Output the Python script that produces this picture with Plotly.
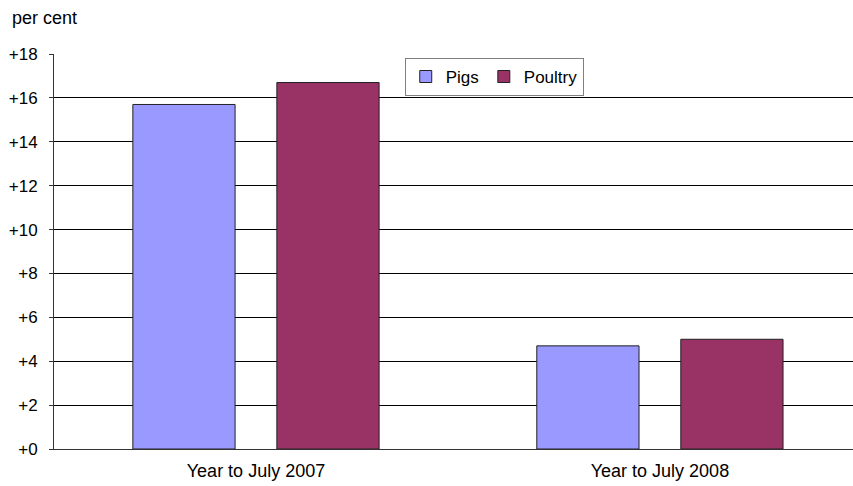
import plotly.graph_objects as go

categories = ["Year to July 2007", "Year to July 2008"]
pigs = [15.7, 4.7]
poultry = [16.7, 5.0]
y_ticks = [0, 2, 4, 6, 8, 10, 12, 14, 16, 18]
y_tick_labels = ["+" + str(v) for v in y_ticks]

fig = go.Figure()
fig.add_trace(go.Bar(name="Pigs", x=categories, y=pigs,
                     marker=dict(color="#9999FF", line=dict(color="#222222", width=1))))
fig.add_trace(go.Bar(name="Poultry", x=categories, y=poultry,
                     marker=dict(color="#993366", line=dict(color="#222222", width=1))))

fig.update_layout(
    width=853, height=486,
    margin=dict(l=54, r=0, t=54, b=37),
    paper_bgcolor="white", plot_bgcolor="white",
    barmode="group", bargap=0.287, bargroupgap=0.29,
    font=dict(family="Liberation Sans, Arial", size=18, color="black"),
    showlegend=True,
    legend=dict(orientation="h", x=0.551, y=0.99, xanchor="center", yanchor="top",
                bgcolor="white", bordercolor="#808080", borderwidth=1,
                font=dict(size=17), itemwidth=30, tracegroupgap=0),
    xaxis=dict(range=[-0.5, 1.478], showline=True, linecolor="#333333", linewidth=1,
               showgrid=False, ticks="", tickfont=dict(size=18), ticklabelstandoff=5),
    yaxis=dict(range=[0, 18], tickvals=y_ticks, ticktext=y_tick_labels,
               showgrid=True, gridcolor="black", gridwidth=1,
               showline=True, linecolor="#333333", linewidth=1,
               ticks="outside", ticklen=4, tickcolor="#333333",
               ticklabelstandoff=8,
               zeroline=False, tickfont=dict(size=17)),
)
fig.add_annotation(text="per cent", xref="paper", yref="paper",
                   x=-44/799, y=1 + 36/395, xanchor="left", yanchor="middle",
                   showarrow=False, font=dict(size=18))
fig.write_html("out.html")
